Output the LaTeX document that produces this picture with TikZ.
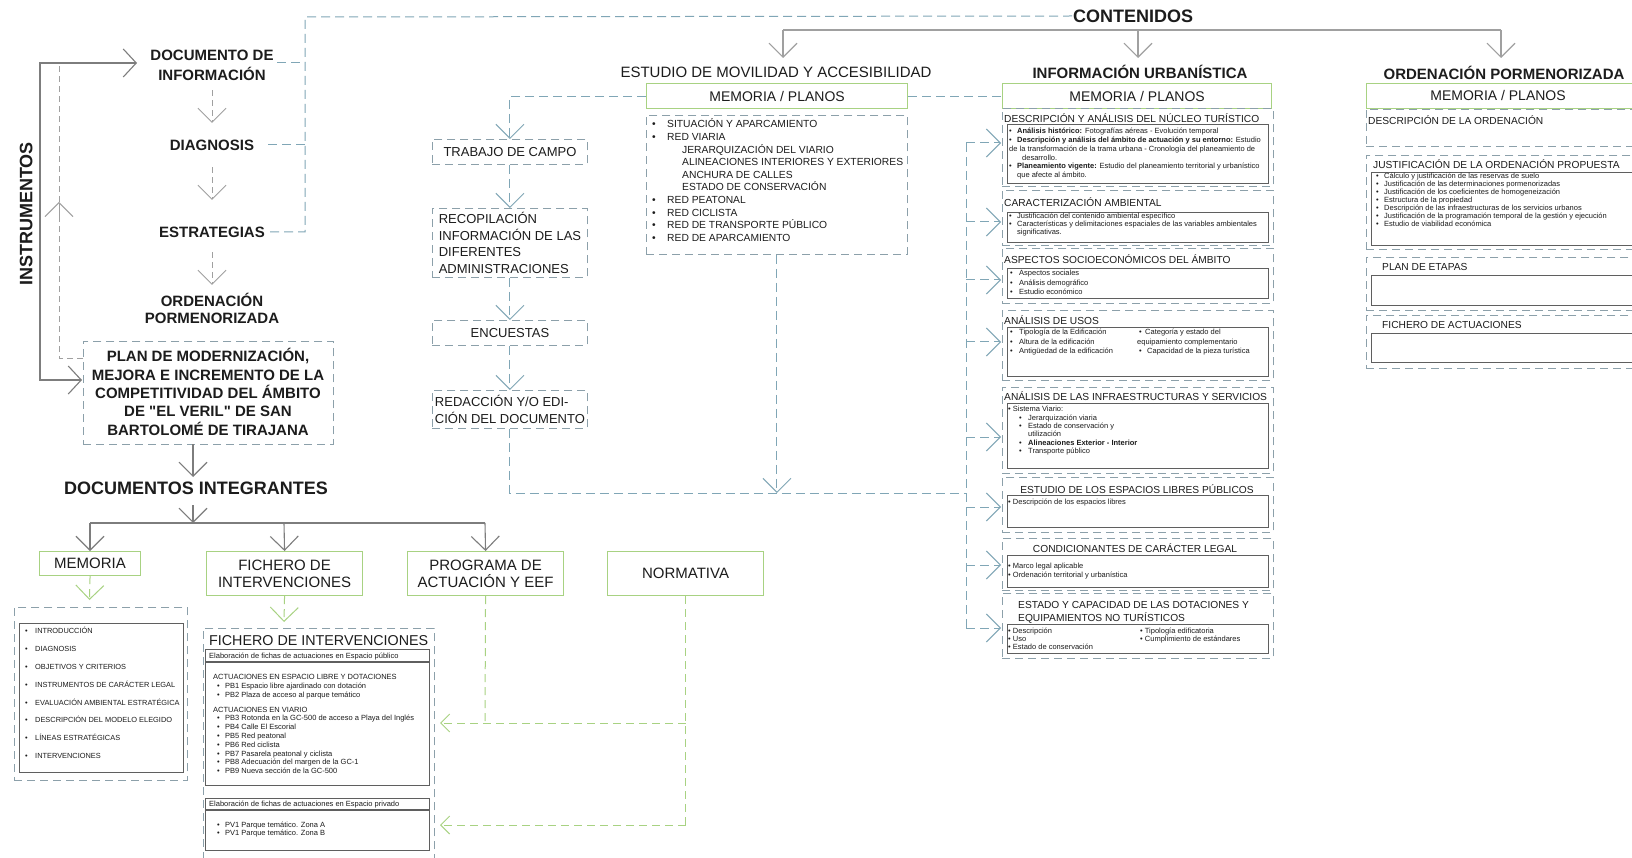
\documentclass[tikz,border=0pt]{standalone}
\usepackage{fontspec}
\setmainfont{Liberation Sans}[Ligatures=TeXOff]
\usetikzlibrary{arrows.meta}
\definecolor{lnk}{RGB}{128,166,182}
\definecolor{dgr}{RGB}{140,160,170}
\definecolor{sgr}{RGB}{125,125,125}
\definecolor{agr}{RGB}{160,160,160}
\definecolor{grn}{RGB}{168,210,130}
\definecolor{txt}{RGB}{28,28,28}
\definecolor{ibx}{RGB}{95,95,95}
\newcommand{\fsz}[2]{\fontsize{#1}{#2}\selectfont}
\newcommand{\xb}[1]{\makebox[#1][l]{\textbullet}}
\begin{document}
\begin{tikzpicture}[x=1pt,y=-1pt,
 every node/.style={inner sep=0pt, text=txt},
 cl/.style={text height=#1, text depth=0pt},
 lnkl/.style={draw=lnk, line width=1pt, dash pattern=on 9pt off 5pt},
 agrl/.style={draw=agr, line width=0.9pt, dash pattern=on 6pt off 4pt},
 grl/.style={draw=sgr, line width=1.1pt},
 grnl/.style={draw=grn, line width=1pt, dash pattern=on 8pt off 5pt},
 chev/.style={-{Straight Barb[length=14pt,width=28pt]}},
 chevs/.style={-{Straight Barb[length=9pt,width=18pt]}},
 dbox/.style={draw=dgr, line width=0.9pt, dash pattern=on 8pt off 5pt},
 gbox/.style={draw=grn, line width=1.1pt},
 ibox/.style={draw=ibx, line width=1.1pt},
 lbl/.style={font=\fsz{15}{18}\bfseries, cl=10.8pt},
 sech/.style={font=\fsz{10.2}{13}, cl=7.3pt},
 small/.style={align=left, font=\fsz{7.5}{8.8}},
]
\useasboundingbox (0,0) rectangle (1632,858);
\fill[white] (0,0) rectangle (1632,858);
\clip (0,0) rectangle (1632,858);

% ---------------- left column: instruments
\node[font=\fsz{15}{20}\bfseries, align=center] (doc) at (212,65) {DOCUMENTO DE\\INFORMACIÓN};
\node[lbl] (diag) at (212,145) {DIAGNOSIS};
\node[lbl] (estr) at (212,232) {ESTRATEGIAS};
\node[font=\fsz{15}{17}\bfseries, align=center] (ord) at (212,308) {ORDENACIÓN\\PORMENORIZADA};
\node[dbox, minimum width=250pt, minimum height=103pt, anchor=north west] (planbox) at (83,341) {};
\node[font=\fsz{15}{18.3}\bfseries, align=center] (plan) at (208,392) {PLAN DE MODERNIZACIÓN,\\MEJORA E INCREMENTO DE LA\\COMPETITIVIDAD DEL ÁMBITO\\DE "EL VERIL" DE SAN\\BARTOLOMÉ DE TIRAJANA};
\node[font=\fsz{18}{20}\bfseries, cl=12.9pt, rotate=90] (instr) at (26,214) {INSTRUMENTOS};

\draw[agrl, chev, shorten <=9.6pt, shorten >=16.6pt] (doc) -- (diag);
\draw[agrl, chev, shorten <=16.6pt, shorten >=26.6pt] (diag) -- (estr);
\draw[agrl, chev, shorten <=14.6pt, shorten >=7.7pt] (estr) -- (ord);

\coordinate (brt) at (137,63);
\coordinate (brb) at (82,380);
\draw[grl, {Straight Barb[length=13pt,width=28pt]}-{Straight Barb[length=13pt,width=28pt]}] (brt) -- (40,63) -- (40,380) -- (brb);
\draw[agrl] (83,358) -- (59,358) -- (59,63);
\draw[draw=agr, line width=0.9pt, chev] (59,222) -- (59,202);

% dashed link to CONTENIDOS
\node[font=\fsz{18}{20}\bfseries, cl=12.9pt] (cont) at (1133,16) {CONTENIDOS};
\draw[lnkl] (277,63) -- (305,63);
\draw[lnkl] (268,145) -- (305,145);
\draw[lnkl] (270,232) -- (305,232) -- (305,17) -- (cont.west);

% tree under CONTENIDOS
\draw[grl, draw=agr] (783,30) -- (1501,30);
\draw[grl, draw=agr, chev] (783,30) -- (783,58);
\draw[grl, draw=agr, chev] (1138,30) -- (1138,58);
\draw[grl, draw=agr, chev] (1501,30) -- (1501,58);

% column headers
\node[font=\fsz{15}{18}, cl=10.8pt] (hmov) at (776,72) {ESTUDIO DE MOVILIDAD Y ACCESIBILIDAD};
\node[lbl] (hinf) at (1140,73) {INFORMACIÓN URBANÍSTICA};
\node[lbl] (hord) at (1504,74) {ORDENACIÓN PORMENORIZADA};

\node[gbox, minimum width=261pt, minimum height=25pt, anchor=north west, font=\fsz{14}{16}, cl=10pt] (mp1) at (646,83) {MEMORIA / PLANOS};
\node[gbox, minimum width=269pt, minimum height=25pt, anchor=north west, font=\fsz{14}{16}, cl=10pt] (mp2) at (1002,83) {MEMORIA / PLANOS};
\node[gbox, minimum width=290pt, minimum height=25pt, anchor=north west] (mp3) at (1366,83) {};
\node[font=\fsz{14}{16}, cl=10pt] (mp3t) at (1498,95.5) {MEMORIA / PLANOS};
\draw[lnkl] (mp1.east) -- (mp2.west);

% ---------------- movilidad
\node[dbox, minimum width=261pt, minimum height=139pt, anchor=north west] (movc) at (646,115) {};
\node[anchor=north west, align=left, font=\fsz{10.3}{12.6}] (movl) at (652,118.7) {%
\xb{15pt}SITUACIÓN Y APARCAMIENTO\\
\xb{15pt}RED VIARIA\\
\hspace*{30pt}JERARQUIZACIÓN DEL VIARIO\\
\hspace*{30pt}ALINEACIONES INTERIORES Y EXTERIORES\\
\hspace*{30pt}ANCHURA DE CALLES\\
\hspace*{30pt}ESTADO DE CONSERVACIÓN\\
\xb{15pt}RED PEATONAL\\
\xb{15pt}RED CICLISTA\\
\xb{15pt}RED DE TRANSPORTE PÚBLICO\\
\xb{15pt}RED DE APARCAMIENTO};

\node[dbox, minimum width=155pt, minimum height=25pt, anchor=north west, font=\fsz{13}{16}, cl=9.3pt] (trab) at (432,139) {TRABAJO DE CAMPO};
\node[dbox, minimum width=155pt, minimum height=69pt, anchor=north west, align=left, font=\fsz{13}{16.5}] (reco) at (432,208) {RECOPILACIÓN\\INFORMACIÓN DE LAS\\DIFERENTES\\ADMINISTRACIONES};
\node[dbox, minimum width=155pt, minimum height=25pt, anchor=north west, font=\fsz{13}{16}, cl=9.3pt] (enc) at (432,320) {ENCUESTAS};
\node[dbox, minimum width=155pt, minimum height=38pt, anchor=north west, align=left, font=\fsz{13}{17}] (red) at (432,390) {REDACCIÓN Y/O EDI-\\CIÓN DEL DOCUMENTO};

\draw[lnkl, chev] (mp1.west) -| (trab.north);
\draw[lnkl, chev] (trab.south) -- (reco.north);
\draw[lnkl, chev] (reco.south) -- (enc.north);
\draw[lnkl, chev] (enc.south) -- (red.north);
\coordinate (jn) at (966,493);
\draw[lnkl] (red.south) |- (jn);
\draw[lnkl, chev] (movc.south) -- (movc.south |- jn);
\draw[lnkl] (966,143) -- (966,628);
\foreach \yy in {143,222,280,342,437,507,565,628}{
  \draw[lnkl, chev] (966,\yy) -- (1001,\yy);
}

% ---------------- informacion urbanistica sections
% s1
\node[dbox, minimum width=271pt, minimum height=78pt, anchor=north west] (s1) at (1002,108) {};
\node[ibox, minimum width=261pt, minimum height=59pt, anchor=north west] (i1) at (1007,124) {};
\node[sech, anchor=west] (h1) at (1004,119) {DESCRIPCIÓN Y ANÁLISIS DEL NÚCLEO TURÍSTICO};
\node[small, anchor=north west] (l1) at (1009,128) {%
\xb{8pt}\textbf{Análisis histórico:} Fotografías aéreas - Evolución temporal\\
\xb{8pt}\textbf{Descripción y análisis del ámbito de actuación y su entorno:} Estudio\\
de la transformación de la trama urbana - Cronología del planeamiento de\\
\hspace*{13pt}desarrollo.\\
\xb{8pt}\textbf{Planeamiento vigente:} Estudio del planeamiento territorial y urbanístico\\
\hspace*{8pt}que afecte al ámbito.};
% s2
\node[dbox, minimum width=271pt, minimum height=55pt, anchor=north west] (s2) at (1002,190) {};
\node[ibox, minimum width=261pt, minimum height=30pt, anchor=north west] (i2) at (1007,212) {};
\node[sech, anchor=west] (h2) at (1004,203) {CARACTERIZACIÓN AMBIENTAL};
\node[small, font=\fsz{7.5}{8}, anchor=north west] (l2) at (1009,213) {%
\xb{8pt}Justificación del contenido ambiental específico\\
\xb{8pt}Características y delimitaciones espaciales de las variables ambientales\\
\hspace*{8pt}significativas.};
% s3
\node[dbox, minimum width=271pt, minimum height=55pt, anchor=north west] (s3) at (1002,248) {};
\node[ibox, minimum width=261pt, minimum height=30pt, anchor=north west] (i3) at (1007,268) {};
\node[sech, anchor=west] (h3) at (1004,260) {ASPECTOS SOCIOECONÓMICOS DEL ÁMBITO};
\node[small, font=\fsz{7.5}{9.5}, anchor=north west] (l3) at (1010,270) {%
\xb{9pt}Aspectos sociales\\
\xb{9pt}Análisis demográfico\\
\xb{9pt}Estudio económico};
% s4
\node[dbox, minimum width=271pt, minimum height=70pt, anchor=north west] (s4) at (1002,310) {};
\node[ibox, minimum width=261pt, minimum height=49pt, anchor=north west] (i4) at (1007,327) {};
\node[sech, anchor=west] (h4) at (1004,321) {ANÁLISIS DE USOS};
\node[small, font=\fsz{7.5}{9.5}, anchor=north west] (l4a) at (1010,329) {%
\xb{9pt}Tipología de la Edificación\\
\xb{9pt}Altura de la edificación\\
\xb{9pt}Antigüedad de la edificación};
\node[small, font=\fsz{7.5}{9.5}, anchor=north west] (l4b) at (1137,329) {%
\hspace*{2pt}\xb{6pt}Categoría y estado del\\
equipamiento complementario\\
\hspace*{2pt}\xb{8pt}Capacidad de la pieza turística};
% s5
\node[dbox, minimum width=271pt, minimum height=86pt, anchor=north west] (s5) at (1002,387) {};
\node[ibox, minimum width=261pt, minimum height=65pt, anchor=north west] (i5) at (1007,403) {};
\node[sech, anchor=west] (h5) at (1004,397) {ANÁLISIS DE LAS INFRAESTRUCTURAS Y SERVICIOS};
\node[small, font=\fsz{7.5}{8.4}, anchor=north west] (l5) at (1008,406) {%
\textbullet{} Sistema Viario:\\
\hspace*{11pt}\xb{9pt}Jerarquización viaria\\
\hspace*{11pt}\xb{9pt}Estado de conservación y\\
\hspace*{20pt}utilización\\
\hspace*{11pt}\xb{9pt}\textbf{Alineaciones Exterior - Interior}\\
\hspace*{11pt}\xb{9pt}Transporte público};
% s6
\node[dbox, minimum width=271pt, minimum height=55pt, anchor=north west] (s6) at (1002,477) {};
\node[ibox, minimum width=261pt, minimum height=32pt, anchor=north west] (i6) at (1007,495) {};
\node[sech] (h6) at (1137,490) {ESTUDIO DE LOS ESPACIOS LIBRES PÚBLICOS};
\node[small, anchor=north west] (l6) at (1008,499) {\textbullet{} Descripción de los espacios libres};
% s7
\node[dbox, minimum width=271pt, minimum height=52pt, anchor=north west] (s7) at (1002,538) {};
\node[ibox, minimum width=261pt, minimum height=32pt, anchor=north west] (i7) at (1007,555) {};
\node[sech] (h7) at (1135,549) {CONDICIONANTES DE CARÁCTER LEGAL};
\node[small, font=\fsz{7.5}{9}, anchor=north west] (l7) at (1008,563) {%
\textbullet{} Marco legal aplicable\\
\textbullet{} Ordenación territorial y urbanística};
% s8
\node[dbox, minimum width=271pt, minimum height=65pt, anchor=north west] (s8) at (1002,593) {};
\node[ibox, minimum width=261pt, minimum height=29pt, anchor=north west] (i8) at (1007,624) {};
\node[font=\fsz{10.2}{13}, align=left, anchor=north west] (h8) at (1018,601.4) {ESTADO Y CAPACIDAD DE LAS DOTACIONES Y\\EQUIPAMIENTOS NO TURÍSTICOS};
\node[small, font=\fsz{7.5}{8}, anchor=north west] (l8a) at (1008,628) {%
\textbullet{} Descripción\\
\textbullet{} Uso\\
\textbullet{} Estado de conservación};
\node[small, font=\fsz{7.5}{8}, anchor=north west] (l8b) at (1140,628) {%
\textbullet{} Tipología edificatoria\\
\textbullet{} Cumplimiento de estándares};

% ---------------- ordenacion pormenorizada
\node[dbox, minimum width=280pt, minimum height=37pt, anchor=north west] (o1) at (1366,109) {};
\node[sech, anchor=west] (oh1) at (1368,121) {DESCRIPCIÓN DE LA ORDENACIÓN};
\node[dbox, minimum width=280pt, minimum height=94pt, anchor=north west] (o2) at (1366,155) {};
\node[ibox, minimum width=275pt, minimum height=73pt, anchor=north west] (oi2) at (1371,172) {};
\node[sech, anchor=west] (oh2) at (1373,165) {JUSTIFICACIÓN DE LA ORDENACIÓN PROPUESTA};
\node[small, font=\fsz{7.5}{7.9}, anchor=north west] (ol2) at (1376,173) {%
\xb{8pt}Cálculo y justificación de las reservas de suelo\\
\xb{8pt}Justificación de las determinaciones pormenorizadas\\
\xb{8pt}Justificación de los coeficientes de homogeneización\\
\xb{8pt}Estructura de la propiedad\\
\xb{8pt}Descripción de las infraestructuras de los servicios urbanos\\
\xb{8pt}Justificación de la programación temporal de la gestión y ejecución\\
\xb{8pt}Estudio de viabilidad económica};
\node[dbox, minimum width=280pt, minimum height=53pt, anchor=north west] (o3) at (1366,257) {};
\node[ibox, minimum width=275pt, minimum height=30pt, anchor=north west] (oi3) at (1371,275) {};
\node[sech, anchor=west] (oh3) at (1382,267) {PLAN DE ETAPAS};
\node[dbox, minimum width=280pt, minimum height=53pt, anchor=north west] (o4) at (1366,315) {};
\node[ibox, minimum width=275pt, minimum height=29pt, anchor=north west] (oi4) at (1371,333) {};
\node[sech, anchor=west] (oh4) at (1382,325) {FICHERO DE ACTUACIONES};

% ---------------- documentos integrantes
\draw[grl, chev] (193,444) -- (193,477);
\node[font=\fsz{18}{20}\bfseries, cl=12.9pt] (docint) at (196,488) {DOCUMENTOS INTEGRANTES};
\draw[grl, chev] (193,505) -- (193,523);
\draw[grl] (90,523) -- (485,523);

\node[gbox, minimum width=101pt, minimum height=24pt, anchor=north west, font=\fsz{15}{18}, cl=10.8pt] (mem) at (39,551) {MEMORIA};
\node[gbox, minimum width=156pt, minimum height=44pt, anchor=north west, align=center, font=\fsz{15}{17}] (fich) at (206,551) {FICHERO DE\\INTERVENCIONES};
\node[gbox, minimum width=156pt, minimum height=44pt, anchor=north west, align=center, font=\fsz{15}{17}] (prog) at (407,551) {PROGRAMA DE\\ACTUACIÓN Y EEF};
\node[gbox, minimum width=156pt, minimum height=44pt, anchor=north west, font=\fsz{15}{18}, cl=10.8pt] (norm) at (607,551) {NORMATIVA};

\draw[grl, chev] (90,523) -- (mem.north -| 90,0);
\draw[grl, chev] (284,523) -- (fich.north);
\draw[grl, chev] (485,523) -- (prog.north);

% memoria list
\node[dbox, minimum width=173pt, minimum height=173pt, anchor=north west] (meml) at (14,607) {};
\node[draw=ibx, line width=0.9pt, minimum width=164pt, minimum height=149pt, anchor=north west] (memi) at (19,623) {};
\node[align=left, font=\fsz{7.4}{17.86}, anchor=north west] (memt) at (25,627) {%
\xb{10pt}INTRODUCCIÓN\\
\xb{10pt}DIAGNOSIS\\
\xb{10pt}OBJETIVOS Y CRITERIOS\\
\xb{10pt}INSTRUMENTOS DE CARÁCTER LEGAL\\
\xb{10pt}EVALUACIÓN AMBIENTAL ESTRATÉGICA\\
\xb{10pt}DESCRIPCIÓN DEL MODELO ELEGIDO\\
\xb{10pt}LÍNEAS ESTRATÉGICAS\\
\xb{10pt}INTERVENCIONES};

% fichero de intervenciones
\node[dbox, minimum width=231pt, minimum height=250pt, anchor=north west] (fichd) at (203,628) {};
\node[anchor=west, font=\fsz{14.3}{16}, cl=10.2pt] (ficht) at (209,640) {FICHERO DE INTERVENCIONES};
\node[ibox, minimum width=224pt, minimum height=136pt, anchor=north west] (fb1) at (205,649) {};
\draw[ibox] (205,662) -- (429,662);
\node[anchor=west, font=\fsz{7.5}{8}, cl=5.4pt] (fb1h) at (209,656) {Elaboración de fichas de actuaciones en Espacio público};
\node[small, font=\fsz{7.5}{8.8}, anchor=north west] (fb1l) at (213,674.3) {%
ACTUACIONES EN ESPACIO LIBRE Y DOTACIONES\\
\hspace*{4pt}\xb{8pt}PB1 Espacio libre ajardinado con dotación\\
\hspace*{4pt}\xb{8pt}PB2 Plaza de acceso al parque temático\\[6pt]
ACTUACIONES EN VIARIO\\
\hspace*{4pt}\xb{8pt}PB3 Rotonda en la GC-500 de acceso a Playa del Inglés\\
\hspace*{4pt}\xb{8pt}PB4 Calle El Escorial\\
\hspace*{4pt}\xb{8pt}PB5 Red peatonal\\
\hspace*{4pt}\xb{8pt}PB6 Red ciclista\\
\hspace*{4pt}\xb{8pt}PB7 Pasarela peatonal y ciclista\\
\hspace*{4pt}\xb{8pt}PB8 Adecuación del margen de la GC-1\\
\hspace*{4pt}\xb{8pt}PB9 Nueva sección de la GC-500};
\node[ibox, minimum width=224pt, minimum height=52pt, anchor=north west] (fb2) at (205,798) {};
\draw[ibox] (205,810) -- (429,810);
\node[anchor=west, font=\fsz{7.5}{8}, cl=5.4pt] (fb2h) at (209,804) {Elaboración de fichas de actuaciones en Espacio privado};
\node[small, font=\fsz{7.5}{7.8}, anchor=north west] (fb2l) at (217,822) {%
\xb{8pt}PV1 Parque temático. Zona A\\
\xb{8pt}PV1 Parque temático. Zona B};

% green dashed links
\draw[grnl, chev] (mem.south) -- (89.5,600);
\draw[grnl, chev] (fich.south) -- (284,622);
\coordinate (ga) at (440,723);
\coordinate (gb) at (440,825);
\draw[grnl] (prog.south) -- (485,723);
\draw[grnl] (norm.south) -- (norm.south |- gb);
\draw[grnl, chevs] (norm.south |- ga) -- (ga);
\draw[grnl, chevs] (norm.south |- gb) -- (gb);
\end{tikzpicture}
\end{document}
